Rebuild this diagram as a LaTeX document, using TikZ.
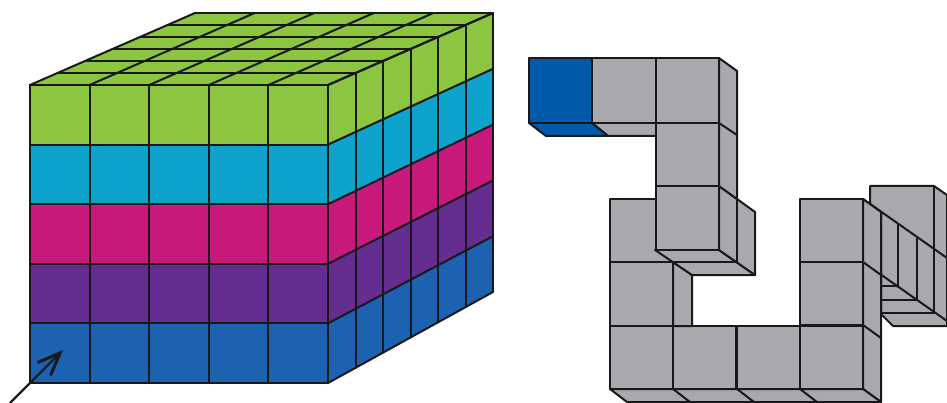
\documentclass[tikz,border=0pt]{standalone}
\usepackage{xcolor}
\usetikzlibrary{arrows.meta}
\definecolor{layergreen}{RGB}{140,197,64}
\definecolor{layerteal}{RGB}{14,163,205}
\definecolor{layermagenta}{RGB}{200,25,125}
\definecolor{layerpurple}{RGB}{102,45,145}
\definecolor{layerblue}{RGB}{28,98,176}
\definecolor{cubegrey}{RGB}{167,169,172}
\definecolor{endblue}{RGB}{0,91,170}
\definecolor{edgeblack}{RGB}{25,25,28}
\tikzset{
  cell/.style={draw=edgeblack,line width=2pt,line join=round},
  greyface/.style={cell,fill=cubegrey},
  blueface/.style={cell,fill=endblue},
  edgeline/.style={draw=edgeblack,line width=2pt,line cap=round},
  pointer/.style={-{Straight Barb[length=8mm,width=6.4mm,line width=3pt]},line width=2.2pt,draw=edgeblack}
}
\begin{document}
\begin{tikzpicture}[x=1pt,y=-1pt]
  \useasboundingbox (0,0) rectangle (947,403);
  % stacked block, layer by layer
  \fill[layergreen] (30,85) -- (195,13) -- (493,13) -- (328,85) -- cycle;
  \foreach \lay/\col in {0/layergreen,1/layerteal,2/layermagenta,3/layerpurple,4/layerblue}{
    \foreach \i in {0,...,4}
      \fill[\col] ({30+59.6*\i},{85+59.6*\lay}) rectangle ({30+59.6*(\i+1)},{85+59.6*(\lay+1)});
    \foreach \i in {0,...,5}
      \fill[\col]
        ({328+27.5*\i},{85-12*\i+\lay*(298-3.17*\i)/5}) --
        ({328+27.5*(\i+1)},{85-12*(\i+1)+\lay*(298-3.17*(\i+1))/5}) --
        ({328+27.5*(\i+1)},{85-12*(\i+1)+(\lay+1)*(298-3.17*(\i+1))/5}) --
        ({328+27.5*\i},{85-12*\i+(\lay+1)*(298-3.17*\i)/5}) -- cycle;
  }
  % grid lines of the three faces
  \foreach \j in {0,...,5}{
    \draw[edgeline] (30,{85+59.6*\j}) -- (328,{85+59.6*\j});
    \draw[edgeline] (328,{85+59.6*\j}) -- (493,{85-72+\j*55.8});
  }
  \foreach \i in {0,...,5}
    \draw[edgeline] ({30+59.6*\i},85) -- ({30+59.6*\i},383);
  \foreach \i in {1,...,6}
    \draw[edgeline] ({328+27.5*\i},{85-12*\i}) -- ({328+27.5*\i},{383-15.17*\i});
  \foreach \i in {0,...,6}
    \draw[edgeline] ({30+27.5*\i},{85-12*\i}) -- ({328+27.5*\i},{85-12*\i});
  \foreach \i in {0,...,5}
    \draw[edgeline] ({30+59.6*\i},85) -- ({195+59.6*\i},13);
  % pointer
  \coordinate (pointerfoot) at (10,403);
  \coordinate (pointerhead) at (63,350);
  \draw[pointer] (pointerfoot) -- (pointerhead);

  % far part of the snake
  \draw[greyface] (870,204) -- (870,186) -- (934,186) -- (947,195) -- (947,326) -- (893,326) -- (881,314) -- (881,212) -- cycle;
  \draw[edgeline] (934,186) -- (934,312);
  \draw[edgeline] (881,286) -- (898,286);
  \draw[edgeline] (881,300) -- (917,300);
  \draw[edgeline] (881,313) -- (934,313);
  \draw[edgeline] (863,199) -- (947,258);
  \draw[edgeline] (863,262) -- (947,321);
  \draw[edgeline] (898,224) -- (898,287);
  \draw[edgeline] (917,237) -- (917,300);
  % right column
  \draw[greyface] (863,199) -- (881,212) -- (881,402) -- (863,389) -- cycle;
  \draw[edgeline] (863,262) -- (881,275);
  \draw[edgeline] (863,325) -- (881,338);
  \foreach \y in {199,262}
    \draw[greyface] (800,\y) rectangle (863,\y+63);
  % bottom row
  \draw[greyface] (610,389) -- (627,402) -- (881,402) -- (863,389) -- cycle;
  \foreach \x in {673,737,800}
    \draw[edgeline] (\x,389) -- (\x+17,402);
  \foreach \x in {610,673,737,800}
    \draw[greyface] (\x,326) rectangle (\x+63.3,389);
  % left column
  \draw[greyface] (673,262) -- (692,275) -- (692,326) -- (673,326) -- cycle;
  \foreach \y in {199,262}
    \draw[greyface] (610,\y) rectangle (673,\y+63.5);
  % overhanging cube
  \draw[greyface] (655,250) -- (692,275) -- (755,275) -- (719,250) -- cycle;
  \draw[greyface] (719,186) -- (755,212) -- (755,275) -- (719,250) -- cycle;
  \draw[edgeline] (737,199) -- (737,262);
  \draw[edgeline] (673,262) -- (737,262);
  % top row
  \draw[greyface] (719,58) -- (737,71) -- (737,199) -- (719,186) -- cycle;
  \draw[edgeline] (719,123) -- (737,135);
  \draw[greyface] (592,123) -- (608,136) -- (656,136) -- (656,123) -- cycle;
  \draw[blueface] (529,123) -- (546,136) -- (608,136) -- (592,123) -- cycle;
  \draw[blueface] (529,58) rectangle (592,123);
  \draw[greyface] (592,58) rectangle (656,123);
  \foreach \y/\h in {58/65,123/63,186/64}
    \draw[greyface] (656,\y) rectangle (719,\y+\h);
\end{tikzpicture}
\end{document}
